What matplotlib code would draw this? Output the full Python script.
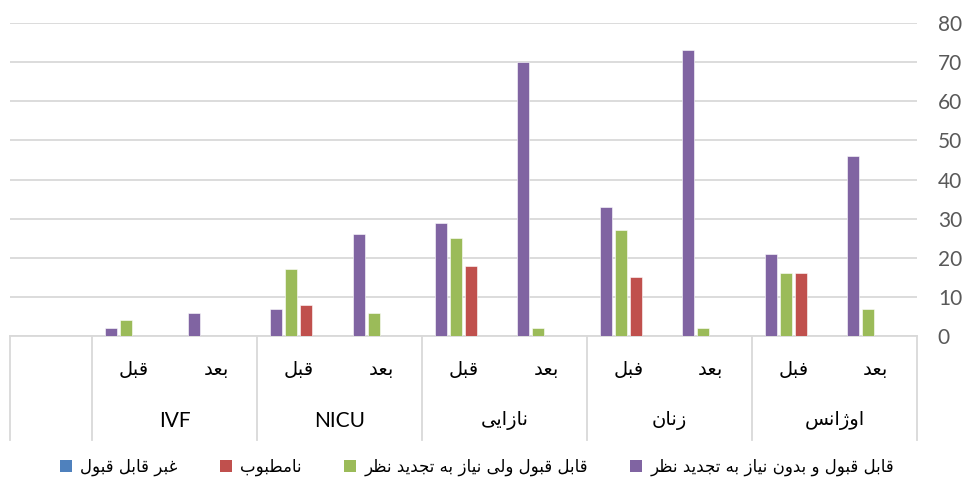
import matplotlib
matplotlib.use("Agg")
import matplotlib.pyplot as plt
import matplotlib.transforms as mtransforms
from matplotlib.patches import Patch
import numpy as np

# ---------------- data ----------------
groups = ["اوژانس", "زنان", "نازایی", "NICU", "IVF", ""]
sub_labels = ["بعد", "فبل", "بعد", "فبل", "بعد", "قبل", "بعد", "قبل", "بعد", "قبل", ""]
series_names = [
    "قابل قبول و بدون نیاز به تجدید نظر",
    "قابل قبول ولی نیاز به تجدید نظر",
    "نامطبوب",
    "غبر قابل قبول",
]
purple_vals = [46, 21, 73, 33, 70, 29, 26, 7, 6, 2, 0]
green_vals = [7, 16, 2, 27, 2, 25, 6, 17, 0, 4, 0]
red_vals = [0, 16, 0, 15, 0, 18, 0, 8, 0, 0, 0]
blue_vals = [0, 0, 0, 0, 0, 0, 0, 0, 0, 0, 0]
colors = ["#8064A2", "#9BBB59", "#C0504D", "#4F81BD"]
yticks = [0, 10, 20, 30, 40, 50, 60, 70, 80]

# ------------- minimal Arabic shaping (presentation forms) -------------
DUAL = {
    "ب": (0xFE8F, 0xFE90, 0xFE91, 0xFE92), "ت": (0xFE95, 0xFE96, 0xFE97, 0xFE98),
    "ث": (0xFE99, 0xFE9A, 0xFE9B, 0xFE9C), "ج": (0xFE9D, 0xFE9E, 0xFE9F, 0xFEA0),
    "س": (0xFEB1, 0xFEB2, 0xFEB3, 0xFEB4), "ط": (0xFEC1, 0xFEC2, 0xFEC3, 0xFEC4),
    "ظ": (0xFEC5, 0xFEC6, 0xFEC7, 0xFEC8), "ع": (0xFEC9, 0xFECA, 0xFECB, 0xFECC),
    "غ": (0xFECD, 0xFECE, 0xFECF, 0xFED0), "ف": (0xFED1, 0xFED2, 0xFED3, 0xFED4),
    "ق": (0xFED5, 0xFED6, 0xFED7, 0xFED8), "ل": (0xFEDD, 0xFEDE, 0xFEDF, 0xFEE0),
    "م": (0xFEE1, 0xFEE2, 0xFEE3, 0xFEE4), "ن": (0xFEE5, 0xFEE6, 0xFEE7, 0xFEE8),
    "ه": (0xFEE9, 0xFEEA, 0xFEEB, 0xFEEC), "ی": (0xFEEF, 0xFEF0, 0xFEF3, 0xFEF4),
}
RIGHT = {
    "ا": (0xFE8D, 0xFE8E), "د": (0xFEA9, 0xFEAA), "ر": (0xFEAD, 0xFEAE),
    "ز": (0xFEAF, 0xFEB0), "و": (0xFEED, 0xFEEE), "ژ": (0xFB8A, 0xFB8B),
}


def shape(s):
    if not any(c in DUAL or c in RIGHT for c in s):
        return s
    out = []
    for i, c in enumerate(s):
        if c not in DUAL and c not in RIGHT:
            out.append(c)
            continue
        p = s[i - 1] if i > 0 else ""
        n = s[i + 1] if i + 1 < len(s) else ""
        cp = p in DUAL
        cn = (c in DUAL) and (n in DUAL or n in RIGHT)
        forms = DUAL.get(c) or RIGHT[c]
        if cp and cn:
            f = forms[3]
        elif cp:
            f = forms[1]
        elif cn:
            f = forms[2]
        else:
            f = forms[0]
        out.append(chr(f))
    return "".join(reversed(out))


AR_FONT = ["DejaVu Sans"]
NUM_FONT = ["Lato", "DejaVu Sans"]

# ---------------- figure ----------------
fig = plt.figure(figsize=(9.67, 4.90), dpi=100)
W, H = 967, 490
ax_left, ax_right, ax_top, ax_bot = 10, 917, 23, 336
ax = fig.add_axes([ax_left / W, 1 - ax_bot / H, (ax_right - ax_left) / W, (ax_bot - ax_top) / H])

n = len(sub_labels)
x = np.arange(n)
slot_px = (ax_right - ax_left) / n
bw = 12 / slot_px
step = 15 / slot_px
offsets = [1.5 * step, 0.5 * step, -0.5 * step, -1.5 * step]
all_vals = [purple_vals, green_vals, red_vals, blue_vals]
for vals, off, col in zip(all_vals, offsets, colors):
    ax.bar(x + off, vals, width=bw, color=col, edgecolor="white", linewidth=0.4, zorder=3)

ax.set_xlim(n - 0.5, -0.5)
ax.set_ylim(0, 80)
ax.set_yticks(yticks)
ax.yaxis.tick_right()
ax.tick_params(axis="y", length=0, pad=15, labelsize=15, labelcolor="#595959")
for lab in ax.get_yticklabels():
    lab.set_family(NUM_FONT)
ax.set_xticks([])
ax.grid(axis="y", color="#d9d9d9", linewidth=1.3, zorder=0)
ax.set_axisbelow(True)
for side in ["top", "right", "left"]:
    ax.spines[side].set_visible(False)
ax.spines["bottom"].set_color("#d9d9d9")
ax.spines["bottom"].set_linewidth(1.3)

trans = mtransforms.blended_transform_factory(ax.transData, ax.transAxes)
ax_h = ax_bot - ax_top
y_sep = -(440 - ax_bot) / ax_h
y_sub = -(370 - ax_bot) / ax_h
y_grp = -(421 - ax_bot) / ax_h

# separators
for b in [-0.5, 1.5, 3.5, 5.5, 7.5, 9.5, 10.5]:
    ax.plot([b, b], [0, y_sep], transform=trans, color="#d9d9d9", lw=1.3, clip_on=False)

for i, lab in enumerate(sub_labels):
    if lab:
        ax.text(i, y_sub, shape(lab), transform=trans, ha="center", va="center",
                fontsize=14, family=AR_FONT, color="black")
for g, lab in enumerate(groups):
    if lab:
        is_ar = shape(lab) != lab
        ax.text(2 * g + 0.5, y_grp, shape(lab), transform=trans, ha="center", va="center",
                fontsize=14 if is_ar else 15, family=AR_FONT if is_ar else NUM_FONT,
                color="black")

handles = [Patch(facecolor=c) for c in colors]
labels = [shape(s) for s in series_names]
order = [3, 2, 1, 0]
leg = fig.legend([handles[i] for i in order], [labels[i] for i in order], ncol=4,
                 loc="center", bbox_to_anchor=(477 / W, 1 - 467 / H), frameon=False,
                 prop={"family": AR_FONT, "size": 12}, handlelength=0.75, handleheight=0.75,
                 handletextpad=0.5, columnspacing=2.5)

fig.savefig("out.png", dpi=100)
